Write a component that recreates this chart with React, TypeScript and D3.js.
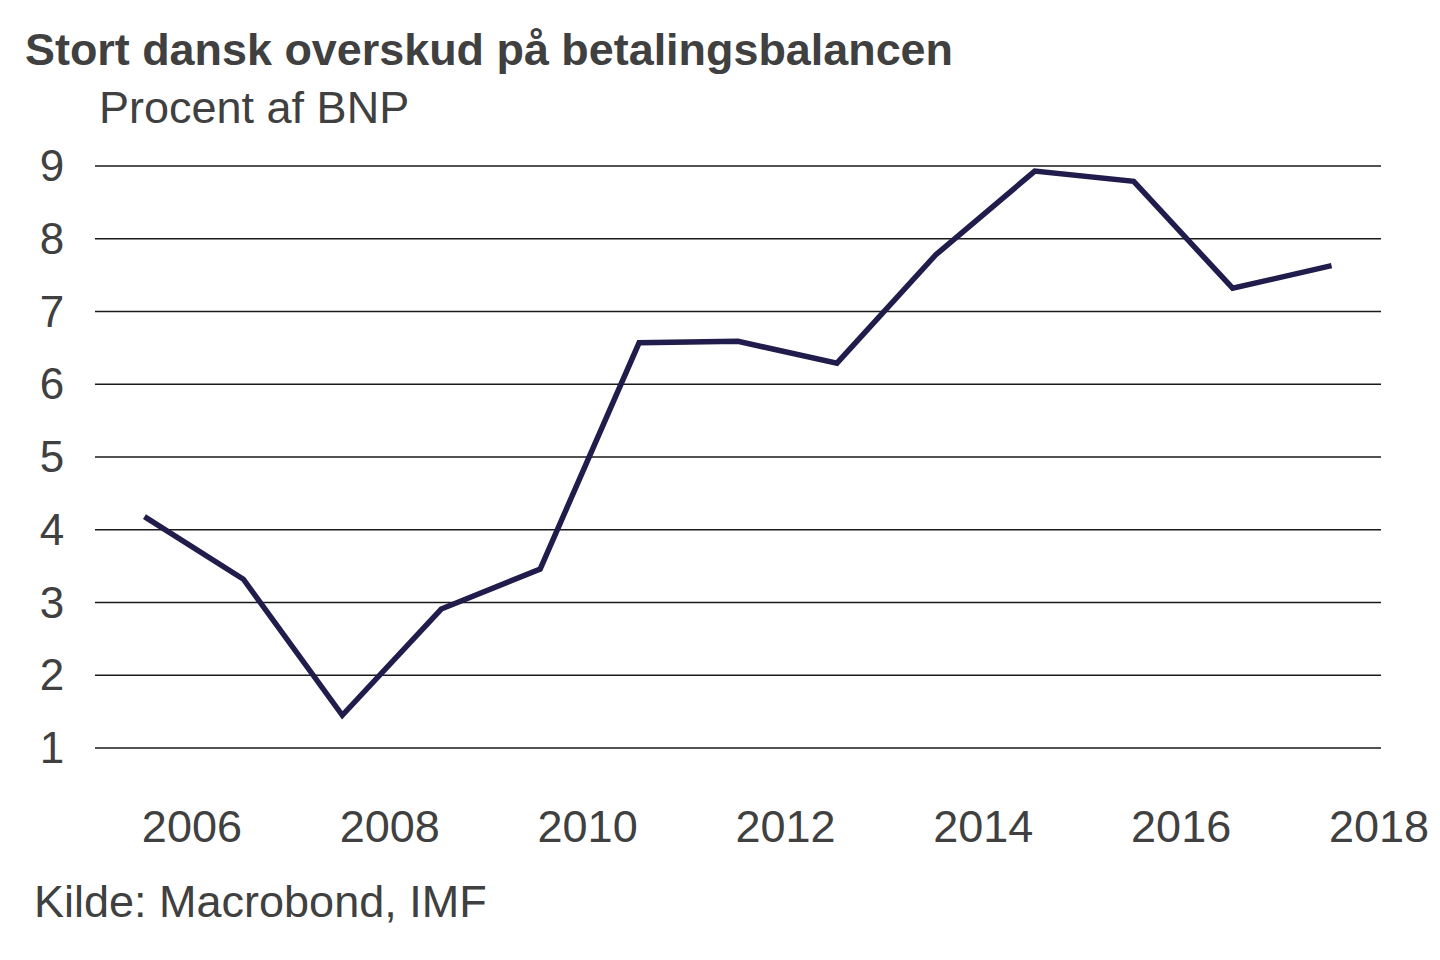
import { useEffect, useRef } from 'react';
import * as d3 from 'd3';

// Current account surplus, % of GDP (plotted at mid-year)
const years = [2005, 2006, 2007, 2008, 2009, 2010, 2011, 2012, 2013, 2014, 2015, 2016, 2017];
const values = [4.18, 3.32, 1.45, 2.91, 3.46, 6.57, 6.59, 6.29, 7.78, 8.93, 8.79, 7.32, 7.63];
const yTicks = [1, 2, 3, 4, 5, 6, 7, 8, 9];
const xTicks = [2006, 2008, 2010, 2012, 2014, 2016, 2018];

const title = 'Stort dansk overskud på betalingsbalancen';
const subtitle = 'Procent af BNP';
const source = 'Kilde: Macrobond, IMF';

const App = () => {
  const chartRef = useRef<SVGSVGElement>(null);

  useEffect(() => {
    if (!chartRef.current) return;

    const svg = d3.select(chartRef.current);
    svg.selectAll('*').remove();

    const font = '"Liberation Sans", Arial, sans-serif';
    const textColor = '#404040';

    const x = d3.scaleLinear().domain([2005, 2018]).range([95, 1381]);
    const y = d3.scaleLinear().domain([1, 9]).range([748, 166]);

    svg.append('rect')
      .attr('width', 1440)
      .attr('height', 960)
      .attr('fill', '#ffffff');

    // Title and subtitle
    svg.append('text')
      .attr('x', 25)
      .attr('y', 65)
      .style('font-family', font)
      .style('font-weight', 'bold')
      .style('font-size', '44.9px')
      .style('fill', textColor)
      .text(title);

    svg.append('text')
      .attr('x', 99)
      .attr('y', 123)
      .style('font-family', font)
      .style('font-size', '45px')
      .style('fill', textColor)
      .text(subtitle);

    // Gridlines
    svg.selectAll('.grid-line')
      .data(yTicks)
      .enter()
      .append('line')
      .attr('class', 'grid-line')
      .attr('x1', x(2005))
      .attr('x2', x(2018))
      .attr('y1', d => y(d))
      .attr('y2', d => y(d))
      .style('stroke', '#1a1a1a')
      .style('stroke-width', '1.5px');

    // Y tick labels
    svg.selectAll('.y-label')
      .data(yTicks)
      .enter()
      .append('text')
      .attr('class', 'y-label')
      .attr('x', 52)
      .attr('y', d => y(d) + 15)
      .style('text-anchor', 'middle')
      .style('font-family', font)
      .style('font-size', '44px')
      .style('fill', textColor)
      .text(d => d);

    // X tick labels
    svg.selectAll('.x-label')
      .data(xTicks)
      .enter()
      .append('text')
      .attr('class', 'x-label')
      .attr('x', d => x(d) - 2)
      .attr('y', 842)
      .style('text-anchor', 'middle')
      .style('font-family', font)
      .style('font-size', '45px')
      .style('fill', textColor)
      .text(d => d);

    // Line
    const line = d3.line<number>()
      .x((_, i) => x(years[i] + 0.5))
      .y(d => y(d));

    svg.append('path')
      .datum(values)
      .attr('d', line)
      .style('fill', 'none')
      .style('stroke', '#201c4b')
      .style('stroke-width', '5.5px')
      .style('stroke-linejoin', 'miter');

    // Source
    svg.append('text')
      .attr('x', 34)
      .attr('y', 917)
      .style('font-family', font)
      .style('font-size', '45px')
      .style('fill', textColor)
      .text(source);
  }, []);

  return (
    <svg
      ref={chartRef}
      width={1440}
      height={960}
      style={{ position: 'absolute', left: 0, top: 0, display: 'block' }}
    />
  );
};

export default App;
